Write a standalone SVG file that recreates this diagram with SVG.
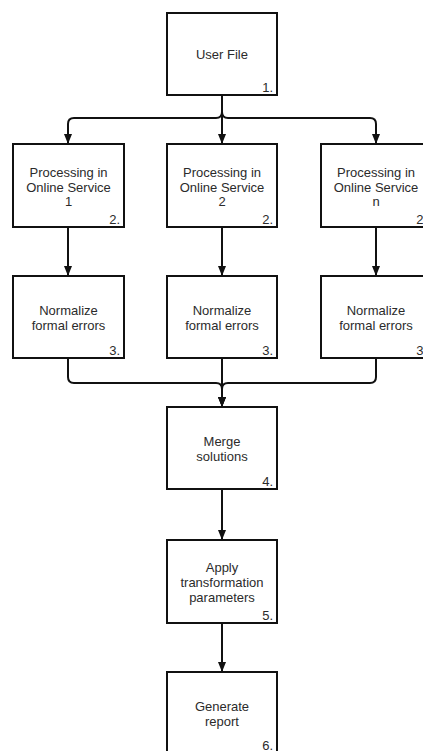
<svg xmlns="http://www.w3.org/2000/svg" width="423" height="751" viewBox="0 0 423 751">
  <defs>
    <style>
      .box { fill: #ffffff; stroke: #111111; stroke-width: 2; }
      .label { font-family: "Liberation Sans", Arial, sans-serif; font-size: 13px; fill: #2b2b2b; text-anchor: middle; }
      .num { font-family: "Liberation Sans", Arial, sans-serif; font-size: 13px; fill: #2b2b2b; text-anchor: end; }
      .wire { fill: none; stroke: #111111; stroke-width: 2; }
    </style>
    <marker id="arrow" viewBox="0 0 10 8" refX="10" refY="4" markerWidth="10" markerHeight="8" markerUnits="userSpaceOnUse" orient="auto">
      <path d="M0,0 L10,4 L0,8 Z" fill="#111111"/>
    </marker>
  </defs>
  <rect width="423" height="751" fill="#ffffff"/>

  <!-- connectors -->
  <g id="connectors">
    <path class="wire" d="M222,95 V112 Q222,118 216,118 H74 Q68,118 68,124 V144" marker-end="url(#arrow)"/>
    <path class="wire" d="M222,95 V144" marker-end="url(#arrow)"/>
    <path class="wire" d="M222,95 V112 Q222,118 228,118 H370 Q376,118 376,124 V144" marker-end="url(#arrow)"/>

    <path class="wire" d="M68,227 V276" marker-end="url(#arrow)"/>
    <path class="wire" d="M222,227 V276" marker-end="url(#arrow)"/>
    <path class="wire" d="M376,227 V276" marker-end="url(#arrow)"/>

    <path class="wire" d="M68,358 V377 Q68,383 74,383 H216 Q222,383 222,389 V407" marker-end="url(#arrow)"/>
    <path class="wire" d="M222,358 V407" marker-end="url(#arrow)"/>
    <path class="wire" d="M376,358 V377 Q376,383 370,383 H228 Q222,383 222,389 V407" marker-end="url(#arrow)"/>

    <path class="wire" d="M222,489 V540" marker-end="url(#arrow)"/>
    <path class="wire" d="M222,623 V672" marker-end="url(#arrow)"/>
  </g>

  <g id="user-file">
    <rect class="box" x="167" y="13" width="110" height="82"/>
    <text class="label" x="222" y="59">User File</text>
    <text class="num" x="273" y="92">1.</text>
  </g>

  <g id="service-1">
    <rect class="box" x="13" y="144" width="111" height="83"/>
    <text class="label" x="68.5" y="177">Processing in</text>
    <text class="label" x="68.5" y="192">Online Service</text>
    <text class="label" x="68.5" y="206">1</text>
    <text class="num" x="120" y="224">2.</text>
  </g>

  <g id="service-2">
    <rect class="box" x="167" y="144" width="110" height="83"/>
    <text class="label" x="222" y="177">Processing in</text>
    <text class="label" x="222" y="192">Online Service</text>
    <text class="label" x="222" y="206">2</text>
    <text class="num" x="273" y="224">2.</text>
  </g>

  <g id="service-n">
    <rect class="box" x="321" y="144" width="110" height="83"/>
    <text class="label" x="376" y="177">Processing in</text>
    <text class="label" x="376" y="192">Online Service</text>
    <text class="label" x="376" y="206">n</text>
    <text class="num" x="427" y="224">2.</text>
  </g>

  <g id="normalize-1">
    <rect class="box" x="13" y="276" width="111" height="82"/>
    <text class="label" x="68.5" y="315">Normalize</text>
    <text class="label" x="68.5" y="330">formal errors</text>
    <text class="num" x="120" y="355">3.</text>
  </g>

  <g id="normalize-2">
    <rect class="box" x="167" y="276" width="110" height="82"/>
    <text class="label" x="222" y="315">Normalize</text>
    <text class="label" x="222" y="330">formal errors</text>
    <text class="num" x="273" y="355">3.</text>
  </g>

  <g id="normalize-n">
    <rect class="box" x="321" y="276" width="110" height="82"/>
    <text class="label" x="376" y="315">Normalize</text>
    <text class="label" x="376" y="330">formal errors</text>
    <text class="num" x="427" y="355">3.</text>
  </g>

  <g id="merge">
    <rect class="box" x="167" y="407" width="110" height="82"/>
    <text class="label" x="222" y="446">Merge</text>
    <text class="label" x="222" y="461">solutions</text>
    <text class="num" x="273" y="486">4.</text>
  </g>

  <g id="transform">
    <rect class="box" x="167" y="540" width="110" height="83"/>
    <text class="label" x="222" y="572">Apply</text>
    <text class="label" x="222" y="587">transformation</text>
    <text class="label" x="222" y="602">parameters</text>
    <text class="num" x="273" y="620">5.</text>
  </g>

  <g id="report">
    <rect class="box" x="167" y="672" width="110" height="82"/>
    <text class="label" x="222" y="711">Generate</text>
    <text class="label" x="222" y="726">report</text>
    <text class="num" x="273" y="750">6.</text>
  </g>
</svg>
